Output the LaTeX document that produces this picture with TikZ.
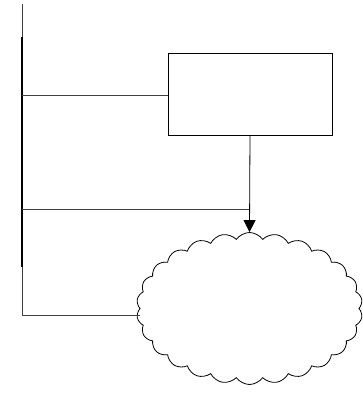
\documentclass[tikz,border=0pt]{standalone}
\usetikzlibrary{shapes.symbols,arrows.meta}
\begin{document}
\begin{tikzpicture}[x=1pt,y=-1pt,
  thinline/.style={line width=0.8pt,black!75},
  boxstyle/.style={draw,line width=0.8pt,minimum width=164pt,minimum height=82pt,inner sep=0pt},
  cloudstyle/.style={draw,cloud,cloud puffs=26,cloud puff arc=110,aspect=1.5,line width=0.8pt,minimum width=226pt,minimum height=152pt,inner sep=0pt}]
\useasboundingbox (0,0) rectangle (363,399);
\node[boxstyle] (box) at (250,94) {};
\node[cloudstyle] (cl) at (249.5,308.5) {};
\coordinate (top) at (22,4);
\coordinate (bot) at (22,315);
\coordinate (t1) at (22,37);
\coordinate (t2) at (22,267);
\coordinate (j1) at (22,95);
\coordinate (j2) at (22,209);
\coordinate (j2e) at (250,209);
\draw[thinline] (top) -- (bot) -- (cl.west |- bot);
\draw[line width=2pt] (t1) -- (t2);
\draw[thinline] (j1) -- (box.west |- j1);
\draw[thinline] (j2) -- (j2e);
\draw[line width=0.8pt,-{Triangle[width=12pt,length=12pt]}] (box.south) -- (cl.north);
\end{tikzpicture}
\end{document}
